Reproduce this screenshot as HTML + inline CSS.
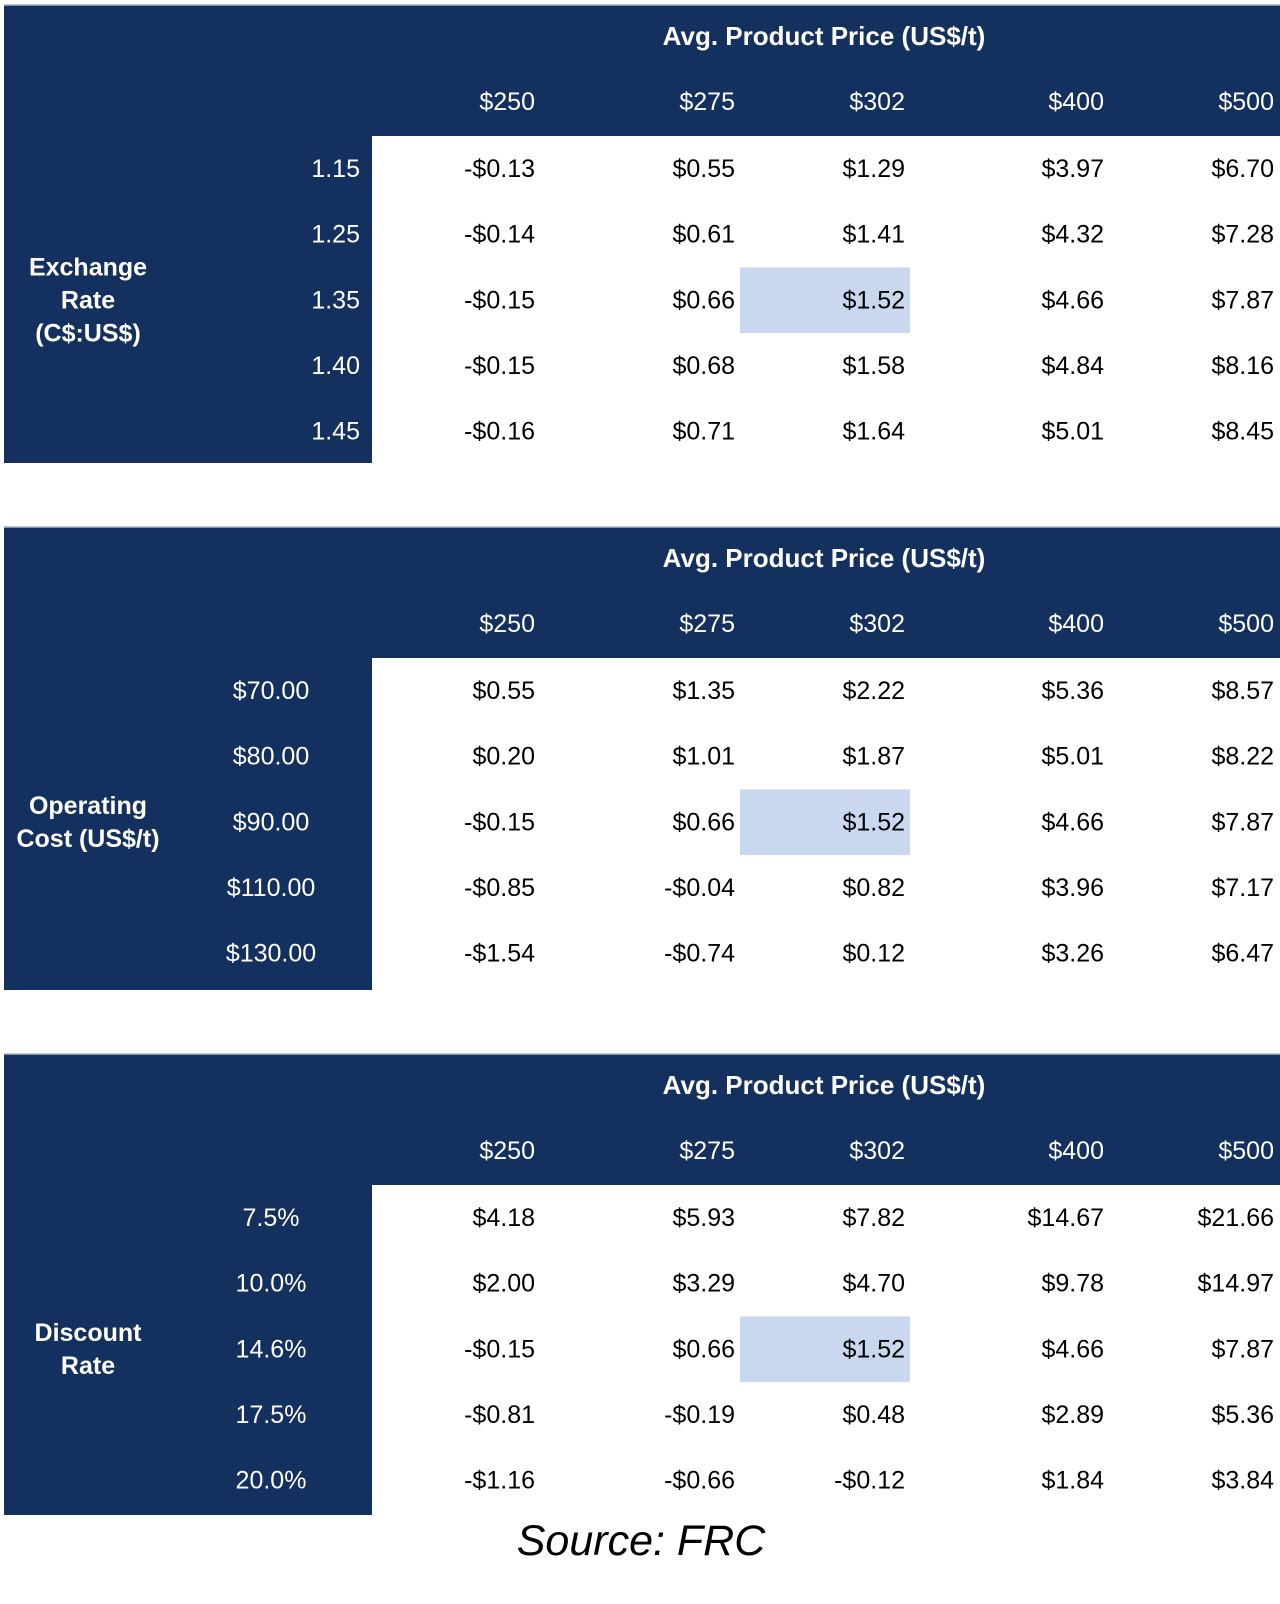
<!DOCTYPE html>
<html><head><meta charset="utf-8"><style>
html,body{margin:0;padding:0;background:#fff;width:1280px;height:1604px;overflow:hidden}
svg text{font-family:"Liberation Sans",Arial,sans-serif}
</style></head><body>
<svg id="chart" width="1280" height="1604" xmlns="http://www.w3.org/2000/svg"></svg>
<script>
const priceCols = ["$250","$275","$302","$400","$500"];
const rowLabels1 = ["1.15","1.25","1.35","1.40","1.45"];
const values1 = [["-$0.13","$0.55","$1.29","$3.97","$6.70"],["-$0.14","$0.61","$1.41","$4.32","$7.28"],["-$0.15","$0.66","$1.52","$4.66","$7.87"],["-$0.15","$0.68","$1.58","$4.84","$8.16"],["-$0.16","$0.71","$1.64","$5.01","$8.45"]];
const rowLabels2 = ["$70.00","$80.00","$90.00","$110.00","$130.00"];
const values2 = [["$0.55","$1.35","$2.22","$5.36","$8.57"],["$0.20","$1.01","$1.87","$5.01","$8.22"],["-$0.15","$0.66","$1.52","$4.66","$7.87"],["-$0.85","-$0.04","$0.82","$3.96","$7.17"],["-$1.54","-$0.74","$0.12","$3.26","$6.47"]];
const rowLabels3 = ["7.5%","10.0%","14.6%","17.5%","20.0%"];
const values3 = [["$4.18","$5.93","$7.82","$14.67","$21.66"],["$2.00","$3.29","$4.70","$9.78","$14.97"],["-$0.15","$0.66","$1.52","$4.66","$7.87"],["-$0.81","-$0.19","$0.48","$2.89","$5.36"],["-$1.16","-$0.66","-$0.12","$1.84","$3.84"]];
const sideTitles = [["Exchange","Rate","(C$:US$)"],["Operating","Cost (US$/t)"],["Discount","Rate"]];

const svg = document.getElementById('chart');
const NS = "http://www.w3.org/2000/svg";
const colRight = [535,735,905,1104,1274];
function mk(tag, attrs){const e=document.createElementNS(NS,tag);for(const k in attrs)e.setAttribute(k,attrs[k]);svg.appendChild(e);return e;}
function txt(x,y,s,anchor,fill,weight,size,name){
  const t=mk('text',{x:x,y:y,'text-anchor':anchor,fill:fill,'font-size':size,'font-weight':weight,'dominant-baseline':'central'});
  t.textContent=s;
  
  
  return t;
}
function table(top, bottom, rowLabels, values, side, labelCenter, idx){
  const pitch = 65.7;
  const g = mk('rect',{x:4,y:top,width:1276,height:bottom-top,fill:'#14305f'});
  
  
  mk('line',{x1:4,y1:top,x2:1280,y2:top,stroke:'#a9b4c6','stroke-width':1.5});
  const whiteTop = top+131;
  const w = mk('rect',{x:372,y:whiteTop,width:908,height:bottom-whiteTop,fill:'#fff'});
  
  
  const hl = mk('rect',{x:740,y:whiteTop+pitch*2,width:170,height:pitch,fill:'#c9d8ef'});
  
  
  txt(824,top+31,"Avg. Product Price (US$/t)",'middle','#fff','bold',26,'column-group-title');
  priceCols.forEach((c,j)=>txt(colRight[j],top+97,c,'end','#fff','normal',25,'column-header'));
  rowLabels.forEach((r,i)=>{
    const y = whiteTop + pitch*(i+0.5);
    if(labelCenter) txt(271,y,r,'middle','#fff','normal',25,'row-label');
    else txt(360,y,r,'end','#fff','normal',25,'row-label');
    values[i].forEach((v,j)=>txt(colRight[j],y,v,'end','#000','normal',25,'cell-value'));
  });
  const mid = whiteTop + pitch*2.5;
  const lh = 33;
  side.forEach((s,k)=>txt(88, mid + (k-(side.length-1)/2)*lh, s,'middle','#fff','bold',25,'row-group-title'));
}
table(5,463,rowLabels1,values1,sideTitles[0],false,1);
table(527,990,rowLabels2,values2,sideTitles[1],true,2);
table(1054,1515,rowLabels3,values3,sideTitles[2],true,3);
const src = txt(641,1541,"Source: FRC",'middle','#000','normal',43,'source-note');
src.setAttribute('font-style','italic');
</script>
</body></html>
